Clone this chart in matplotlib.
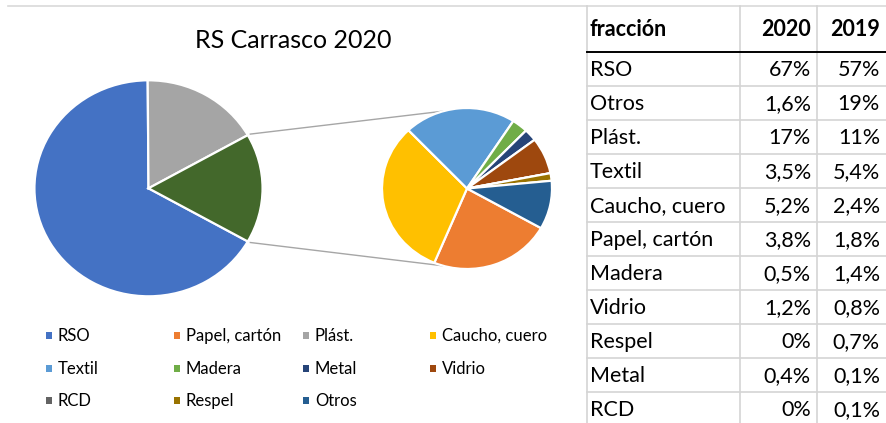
import numpy as np
import matplotlib
matplotlib.use("Agg")
import matplotlib.pyplot as plt
from matplotlib.patches import Rectangle

plt.rcParams['font.family'] = ['Lato', 'DejaVu Sans']

# ---------------- data ----------------
title = "RS Carrasco 2020"
main_labels = ["RSO", "Plást."]
main_values = [67.0, 17.0]            # % 2020 (main pie)
sec_labels = ["Papel, cartón", "Caucho, cuero", "Textil", "Madera", "Metal",
              "Vidrio", "RCD", "Respel", "Otros"]
sec_values = [3.8, 5.2, 3.5, 0.5, 0.4, 1.2, 0.0, 0.25, 1.6]   # % 2020 (secondary pie)

legend_labels = ["RSO", "Papel, cartón", "Plást.", "Caucho, cuero",
                 "Textil", "Madera", "Metal", "Vidrio",
                 "RCD", "Respel", "Otros"]

colors = {
    "RSO": "#4472C4", "Papel, cartón": "#ED7D31", "Plást.": "#A5A5A5",
    "Caucho, cuero": "#FFC000", "Textil": "#5B9BD5", "Madera": "#70AD47",
    "Metal": "#264478", "Vidrio": "#9E480E", "RCD": "#636363",
    "Respel": "#997300", "Otros": "#255E91",
}
other_color = "#43682B"

table_header = ["fracción", "2020", "2019"]
table_names = ["RSO", "Otros", "Plást.", "Textil", "Caucho, cuero", "Papel, cartón",
               "Madera", "Vidrio", "Respel", "Metal", "RCD"]
table_2020 = ["67%", "1,6%", "17%", "3,5%", "5,2%", "3,8%", "0,5%", "1,2%", "0%", "0,4%", "0%"]
table_2019 = ["57%", "19%", "11%", "5,4%", "2,4%", "1,8%", "1,4%", "0,8%", "0,7%", "0,1%", "0,1%"]

# ---------------- figure ----------------
W, H = 886, 423
fig = plt.figure(figsize=(W / 100, H / 100), dpi=100)
fig.patch.set_facecolor("white")

# pixel overlay axes (y down)
axp = fig.add_axes([0, 0, 1, 1])
axp.set_xlim(0, W)
axp.set_ylim(H, 0)
axp.axis("off")

# pie axes (slightly stretched horizontally, like the reference)
SX = 1.056
axq = fig.add_axes([0, 0, 1, 1])
axq.patch.set_alpha(0)

def X(px):
    return px / SX

def Y(py):
    return H - py

other_total = sum(sec_values)
half = other_total / (sum(main_values) + other_total) * 180.0

wp = dict(edgecolor="white", linewidth=1.6)
main_c = (X(148.5), Y(188.3))
main_r = 108
axq.pie(main_values + [other_total],
        colors=[colors[l] for l in main_labels] + [other_color],
        startangle=-half, counterclock=False, radius=main_r, center=main_c,
        wedgeprops=wp, frame=True)

sec_c = (X(467), Y(188.5))
sec_r = 80.5
axq.pie(sec_values, colors=[colors[l] for l in sec_labels],
        startangle=-half, counterclock=False, radius=sec_r, center=sec_c,
        wedgeprops=wp, frame=True)

# connector lines
for s in (1, -1):
    a = np.deg2rad(s * half)
    b = np.deg2rad(s * 106)
    p0 = (main_c[0] + (main_r + 2) * np.cos(a), main_c[1] + (main_r + 2) * np.sin(a))
    p1 = (sec_c[0] + sec_r * np.cos(b), sec_c[1] + sec_r * np.sin(b))
    axq.plot([p0[0], p1[0]], [p0[1], p1[1]], color="#A6A6A6", lw=1.0,
             solid_capstyle="butt", zorder=0)

axq.set_aspect("auto")
axq.set_xlim(0, W / SX)
axq.set_ylim(0, H)
axq.axis("off")

# title
axp.text(293, 41, title, ha="center", va="center", fontsize=18, color="#000000")

# legend
col_x = [49, 177, 306, 433]
row_y = [335.5, 368.5, 400.5]
for i, lab in enumerate(legend_labels):
    cx = col_x[i % 4]
    cy = row_y[i // 4]
    axp.add_patch(Rectangle((cx - 3.2, cy - 3.2), 6.4, 6.4, facecolor=colors[lab],
                            edgecolor="none"))
    axp.text(cx + 9, cy + 0.5, lab, ha="left", va="center", fontsize=12, color="#000000")

# chart top border
axp.plot([8, W], [6, 6], color="#D9D9D9", lw=1.2)

# table
grid_c = "#D4D4D4"
vx = [587, 740, 817]
for x in vx:
    axp.plot([x, x], [6, H], color=grid_c, lw=1.2)
row_h = 34
y0 = 52
for k in range(1, len(table_names) + 1):
    yy = y0 + k * row_h
    if yy < H:
        axp.plot([587, W], [yy, yy], color=grid_c, lw=1.2)
axp.plot([587, W], [y0, y0], color="#000000", lw=1.4)

fs = 15.5
axp.text(590, 30, table_header[0], ha="left", va="center", fontsize=fs, fontweight="bold")
axp.text(811, 30, table_header[1], ha="right", va="center", fontsize=fs, fontweight="bold")
axp.text(880, 30, table_header[2], ha="right", va="center", fontsize=fs, fontweight="bold")
for k, (n, a, b) in enumerate(zip(table_names, table_2020, table_2019)):
    yc = y0 + k * row_h + row_h / 2 + 1
    axp.text(590, yc, n, ha="left", va="center", fontsize=fs)
    axp.text(811, yc, a, ha="right", va="center", fontsize=fs)
    axp.text(880, yc, b, ha="right", va="center", fontsize=fs)

fig.savefig("out.png", dpi=100, facecolor="white")
